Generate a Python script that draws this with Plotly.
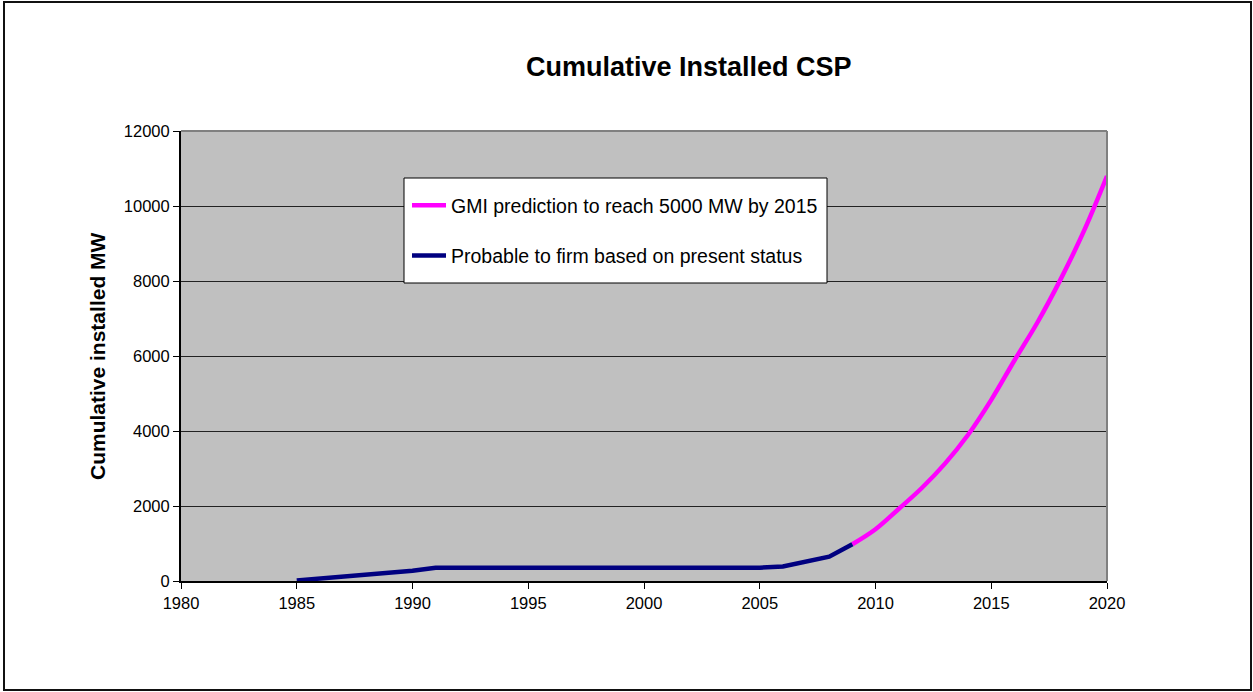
import plotly.graph_objects as go

# Data
firm_years = [1985, 1986, 1987, 1988, 1989, 1990, 1991, 1992, 1993, 1994, 1995, 1996,
              1997, 1998, 1999, 2000, 2001, 2002, 2003, 2004, 2005, 2006, 2007, 2008, 2009]
firm_mw = [14, 70, 120, 160, 210, 275, 354, 354, 354, 354, 354, 354,
           354, 354, 354, 354, 354, 354, 354, 354, 354, 385, 510, 650, 980]

gmi_years = [2009, 2010, 2011, 2012, 2013, 2014, 2015, 2016, 2017, 2018, 2019, 2020]
gmi_mw = [980, 1380, 1920, 2480, 3130, 3900, 4830, 5880, 6900, 8050, 9330, 10800]

x_ticks = [1980, 1985, 1990, 1995, 2000, 2005, 2010, 2015, 2020]
y_ticks = [0, 2000, 4000, 6000, 8000, 10000, 12000]

FONT = "Arial, Liberation Sans, sans-serif"

W, H = 1253, 692
L, R, T, B = 181, 146, 131, 111
PW, PH = W - L - R, H - T - B

fig = go.Figure()
fig.add_trace(go.Scatter(
    x=gmi_years, y=gmi_mw, mode="lines", name="GMI prediction to reach 5000 MW by 2015",
    line=dict(color="#FF00FF", width=4.5, shape="spline"), legendgroup="a", legendrank=1))
fig.add_trace(go.Scatter(
    x=firm_years, y=firm_mw, mode="lines", name="Probable to firm based on present status",
    line=dict(color="#000080", width=4.5), legendgroup="b", legendrank=2))

def px_x(p):
    return (p - L) / PW

def px_y(p):
    return (H - B - p) / PH

shapes = [
    # plot area top/right gray border
    dict(type="line", xref="paper", yref="paper", x0=0, x1=1, y0=1, y1=1,
         line=dict(color="#808080", width=2), layer="above"),
    dict(type="line", xref="paper", yref="paper", x0=1, x1=1, y0=0, y1=1,
         line=dict(color="#808080", width=2), layer="above"),
    # legend box
    dict(type="rect", xref="paper", yref="paper",
         x0=px_x(404), x1=px_x(827), y0=px_y(283), y1=px_y(178),
         fillcolor="white", line=dict(color="black", width=1), layer="above"),
    # outer frame
    dict(type="rect", xref="paper", yref="paper",
         x0=px_x(4), x1=px_x(1251), y0=px_y(690), y1=px_y(2),
         line=dict(color="#111111", width=2)),
]

fig.update_layout(
    width=W, height=H,
    margin=dict(l=L, r=R, t=T, b=B),
    paper_bgcolor="white", plot_bgcolor="#C0C0C0",
    font=dict(family=FONT, color="black", size=16),
    showlegend=True,
    legend=dict(x=px_x(407), y=px_y(186), xanchor="left", yanchor="top",
                bgcolor="rgba(0,0,0,0)", borderwidth=0,
                font=dict(family=FONT, size=19.5, color="black"),
                traceorder="grouped", tracegroupgap=22, itemwidth=34),
    shapes=shapes,
    annotations=[
        dict(text="<b>Cumulative Installed CSP</b>", xref="paper", yref="paper",
             x=px_x(689), y=px_y(67), xanchor="center", yanchor="middle",
             showarrow=False, font=dict(family=FONT, size=27, color="black")),
        dict(text="<b>Cumulative installed MW</b>", xref="paper", yref="paper",
             x=px_x(97), y=0.5, xanchor="center", yanchor="middle", textangle=-90,
             showarrow=False, font=dict(family=FONT, size=21, color="black")),
    ],
)
fig.update_xaxes(range=[1980, 2020], tickvals=x_ticks, ticktext=[str(v) for v in x_ticks],
                 showgrid=False, zeroline=False, showline=True, linecolor="black", linewidth=2,
                 ticks="outside", ticklen=6, tickcolor="black", tickwidth=1,
                 tickfont=dict(size=16.5, family=FONT, color="black"))
fig.update_yaxes(range=[0, 12000], tickvals=y_ticks, ticktext=[str(v) for v in y_ticks],
                 showgrid=True, gridcolor="#222222", gridwidth=1, zeroline=False,
                 showline=True, linecolor="black", linewidth=2,
                 ticks="outside", ticklen=6, tickcolor="black", tickwidth=1,
                 tickfont=dict(size=16.5, family=FONT, color="black"))

fig.write_html("out.html")
